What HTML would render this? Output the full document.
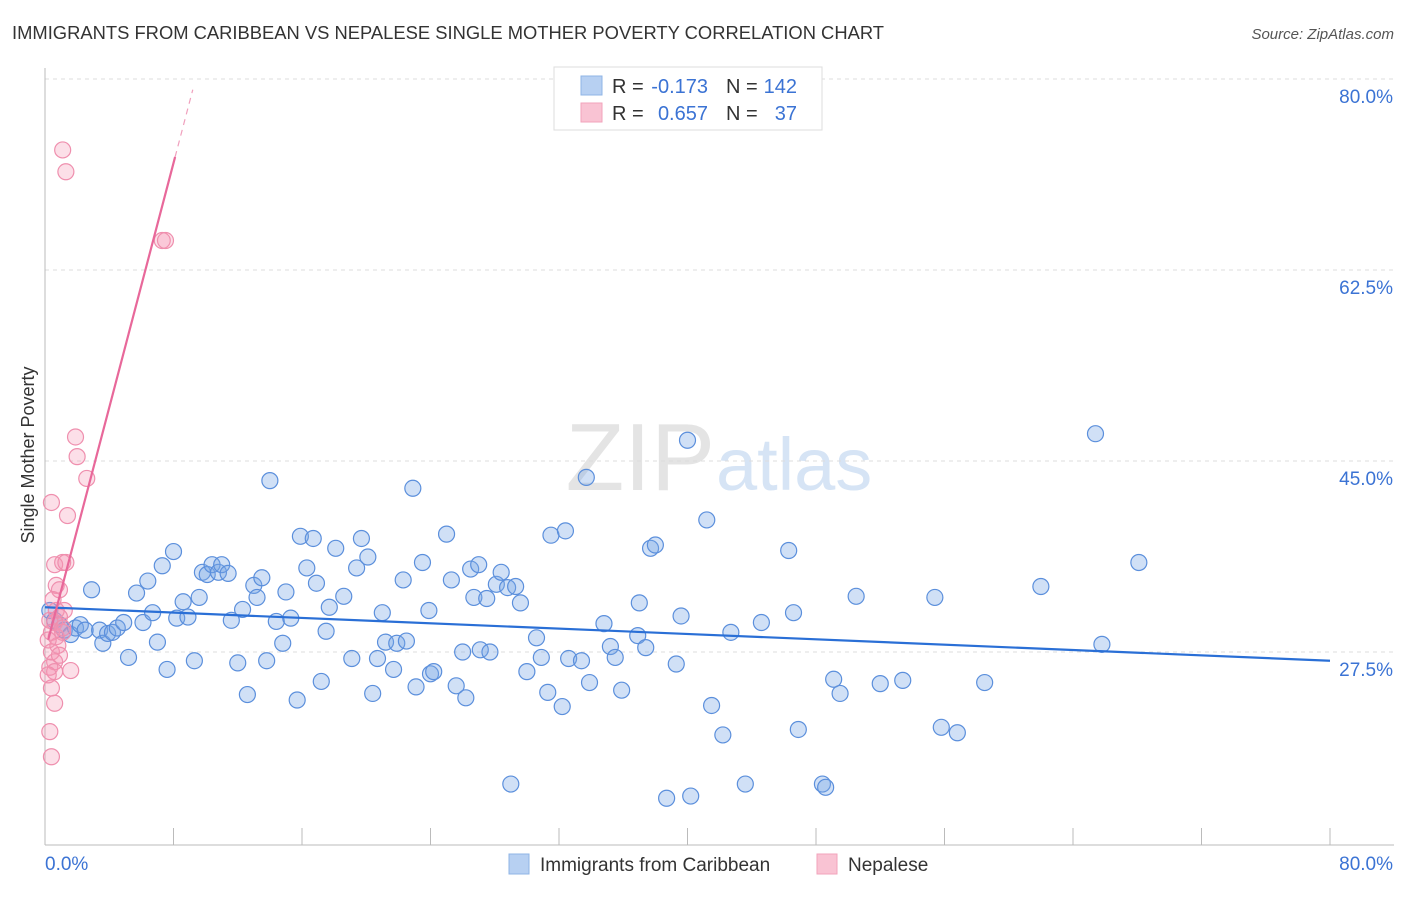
<!DOCTYPE html>
<html><head><meta charset="utf-8"><style>
body{margin:0;background:#fff;font-family:"Liberation Sans",sans-serif;}
svg text{font-family:"Liberation Sans",sans-serif;}
</style></head><body>
<svg id="chart" width="1406" height="892" viewBox="0 0 1406 892" xmlns="http://www.w3.org/2000/svg">
<text x="12" y="39" font-size="18" fill="#333" textLength="872" lengthAdjust="spacingAndGlyphs">IMMIGRANTS FROM CARIBBEAN VS NEPALESE SINGLE MOTHER POVERTY CORRELATION CHART</text>
<text x="1394" y="39" font-size="15" fill="#555" text-anchor="end" font-style="italic">Source: ZipAtlas.com</text>
<text x="715" y="490" font-size="96" fill="#e4e4e4" text-anchor="end" font-family="Liberation Serif">ZIP</text>
<text x="716" y="490" font-size="74" fill="#d6e4f5">atlas</text>
<g id="grid"></g>
<g id="axes"></g>
<text transform="translate(34,455) rotate(-90)" font-size="18" fill="#333" text-anchor="middle">Single Mother Poverty</text>
<g id="points"></g>
<g id="lines"></g>
<g>
<rect x="554" y="67" width="268" height="63" fill="#fff" stroke="#ddd"/>
<rect x="581" y="76" width="21" height="19" fill="#b7d0f2" stroke="#8fb4e6"/>
<rect x="581" y="103" width="21" height="19" fill="#f9c3d3" stroke="#f2a3bb"/>
<text x="612" y="93" font-size="20" fill="#333">R =</text>
<text x="708" y="93" font-size="20" fill="#3b73d4" text-anchor="end">-0.173</text>
<text x="726" y="93" font-size="20" fill="#333">N =</text>
<text x="797" y="93" font-size="20" fill="#3b73d4" text-anchor="end">142</text>
<text x="612" y="120" font-size="20" fill="#333">R =</text>
<text x="708" y="120" font-size="20" fill="#3b73d4" text-anchor="end">0.657</text>
<text x="726" y="120" font-size="20" fill="#333">N =</text>
<text x="797" y="120" font-size="20" fill="#3b73d4" text-anchor="end">37</text>
</g>
<g>
<rect x="509" y="854" width="20" height="20" fill="#b7d0f2" stroke="#8fb4e6"/>
<text x="540" y="871" font-size="19" fill="#333">Immigrants from Caribbean</text>
<rect x="817" y="854" width="20" height="20" fill="#f9c3d3" stroke="#f2a3bb"/>
<text x="848" y="871" font-size="19" fill="#333">Nepalese</text>
</g>
</svg>
<script>
const yTicks=[80,62.5,45,27.5];
const yTickLabels=["80.0%","62.5%","45.0%","27.5%"];
const xTickValues=[0,8,16,24,32,40,48,56,64,72,80];
const blueX=[.3,.6,.9,1.2,1.6,1.9,2.2,2.5,2.9,3.4,3.6,3.9,4.2,4.5,4.9,5.2,5.7,6.1,6.4,6.7,7.0,7.3,7.6,8.0,8.2,8.6,8.9,9.3,9.6,9.8,10.1,10.4,10.8,11.0,11.4,11.6,12.0,12.3,12.6,13.0,13.2,13.5,13.8,14.0,14.4,14.8,15.0,15.3,15.7,15.9,16.3,16.7,16.9,17.2,17.5,17.7,18.1,18.6,19.1,19.4,19.7,20.1,20.4,20.7,21.0,21.2,21.7,21.9,22.3,22.5,22.9,23.1,23.5,23.9,24.0,24.2,25.0,25.3,25.6,26.0,26.2,26.5,26.7,27.0,27.1,27.5,27.7,28.1,28.4,28.8,29.0,29.3,29.6,30.0,30.6,30.9,31.3,31.5,32.2,32.4,32.6,33.4,33.7,33.9,34.8,35.2,35.5,35.9,36.9,37.0,37.4,37.7,38.0,38.7,39.3,39.6,40.0,40.2,41.2,41.5,42.2,42.7,43.6,44.6,46.3,46.6,46.9,48.4,48.6,49.1,49.5,50.5,52.0,53.4,55.4,55.8,56.8,58.5,62.0,65.4,65.8,68.1];
const blueY=[31.3,30.4,30.0,29.5,29.1,29.7,30.0,29.5,33.2,29.5,28.3,29.2,29.3,29.7,30.2,27.0,32.9,30.2,34.0,31.1,28.4,35.4,25.9,36.7,30.6,32.1,30.7,26.7,32.5,34.8,34.6,35.5,34.8,35.5,34.7,30.4,26.5,31.4,23.6,33.6,32.5,34.3,26.7,43.2,30.3,28.3,33.0,30.6,23.1,38.1,35.2,37.9,33.8,24.8,29.4,31.6,37.0,32.6,26.9,35.2,37.9,36.2,23.7,26.9,31.1,28.4,25.9,28.3,34.1,28.5,42.5,24.3,35.7,31.3,25.5,25.7,38.3,34.1,24.4,27.5,23.3,35.1,32.5,35.5,27.7,32.4,27.5,33.7,34.8,33.4,15.4,33.5,32.0,25.7,28.8,27.0,23.8,38.2,22.5,38.6,26.9,26.7,43.5,24.7,30.1,28.0,27.0,24.0,29.0,32.0,27.9,37.0,37.3,14.1,26.4,30.8,46.9,14.3,39.6,22.6,19.9,29.3,15.4,30.2,36.8,31.1,20.4,15.4,15.1,25.0,23.7,32.6,24.6,24.9,32.5,20.6,20.1,24.7,33.5,47.5,28.2,35.7];
const pinkX=[1.1,1.3,7.3,7.5,1.9,2.0,2.6,.4,1.4,.6,1.1,1.3,.7,.9,.7,1.2,.9,.6,.4,.7,1.1,.4,.6,.3,.6,1.6,.4,.6,.3,.4,.8,.2,.3,.5,.9,.2,1.1];
const pinkY=[73.5,71.5,65.2,65.2,47.2,45.4,43.4,41.2,40.0,35.5,35.7,35.7,33.6,33.2,31.3,31.3,30.7,30.2,29.3,28.9,29.3,27.5,26.6,26.1,25.7,25.8,24.2,22.8,20.2,17.9,28.1,28.6,30.4,32.3,27.2,25.4,29.7];
const blueLine=[31.6,26.7]; // y at x=0 and x=80
const pinkLine=[27.5,5.6]; // intercept, slope
const pinkSolidEnd=8.1, pinkDashEnd=9.2;

const NS="http://www.w3.org/2000/svg";
const X=v=>45+v*1285/80;
const Y=v=>79+(80-v)*10.914;
function mk(tag,attrs,parent){const e=document.createElementNS(NS,tag);for(const k in attrs)e.setAttribute(k,attrs[k]);parent.appendChild(e);return e;}
const grid=document.getElementById('grid'),axes=document.getElementById('axes'),pts=document.getElementById('points'),lines=document.getElementById('lines');
yTicks.forEach((t,i)=>{
 const l=mk('line',{x1:45,x2:1394,y1:Y(t),y2:Y(t),stroke:'#ddd','stroke-dasharray':'4,4'},grid);
 
 
 const tx=mk('text',{x:1393,y:Y(t)+24,'font-size':19,fill:'#3b73d4','text-anchor':'end'},axes);
 tx.textContent=yTickLabels[i];
 
 
});
const ax=mk('line',{x1:45,x2:1394,y1:845,y2:845,stroke:'#bbb'},axes);


const ay=mk('line',{x1:45,x2:45,y1:68,y2:845,stroke:'#bbb'},axes);


xTickValues.forEach(t=>{
 const l=mk('line',{x1:X(t),x2:X(t),y1:828,y2:845,stroke:'#bbb'},axes);
 
 
});
const xl0=mk('text',{x:45,y:870,'font-size':19,fill:'#3b73d4'},axes);xl0.textContent='0.0%';


const xl1=mk('text',{x:1393,y:870,'font-size':19,fill:'#3b73d4','text-anchor':'end'},axes);xl1.textContent='80.0%';


blueX.forEach((v,i)=>{
 const c=mk('circle',{cx:X(v),cy:Y(blueY[i]),r:8,fill:'rgba(120,165,230,0.35)',stroke:'#5b8fdc','stroke-width':1.2},pts);
 
 
});
pinkX.forEach((v,i)=>{
 const c=mk('circle',{cx:X(v),cy:Y(pinkY[i]),r:8,fill:'rgba(245,150,180,0.3)',stroke:'#ef8fae','stroke-width':1.2},pts);
 
 
});
const bl=mk('line',{x1:X(0),y1:Y(blueLine[0]),x2:X(80),y2:Y(blueLine[1]),stroke:'#2a6fd6','stroke-width':2.2},lines);


const x0=0.2;
const pl=mk('line',{x1:X(x0),y1:Y(pinkLine[0]+pinkLine[1]*x0),x2:X(pinkSolidEnd),y2:Y(pinkLine[0]+pinkLine[1]*pinkSolidEnd),stroke:'#e8689a','stroke-width':2.2},lines);


const pd=mk('line',{x1:X(pinkSolidEnd),y1:Y(pinkLine[0]+pinkLine[1]*pinkSolidEnd),x2:X(pinkDashEnd),y2:Y(pinkLine[0]+pinkLine[1]*pinkDashEnd),stroke:'#f0a0bd','stroke-width':1.2,'stroke-dasharray':'6,5'},lines);


</script>
</body></html>
